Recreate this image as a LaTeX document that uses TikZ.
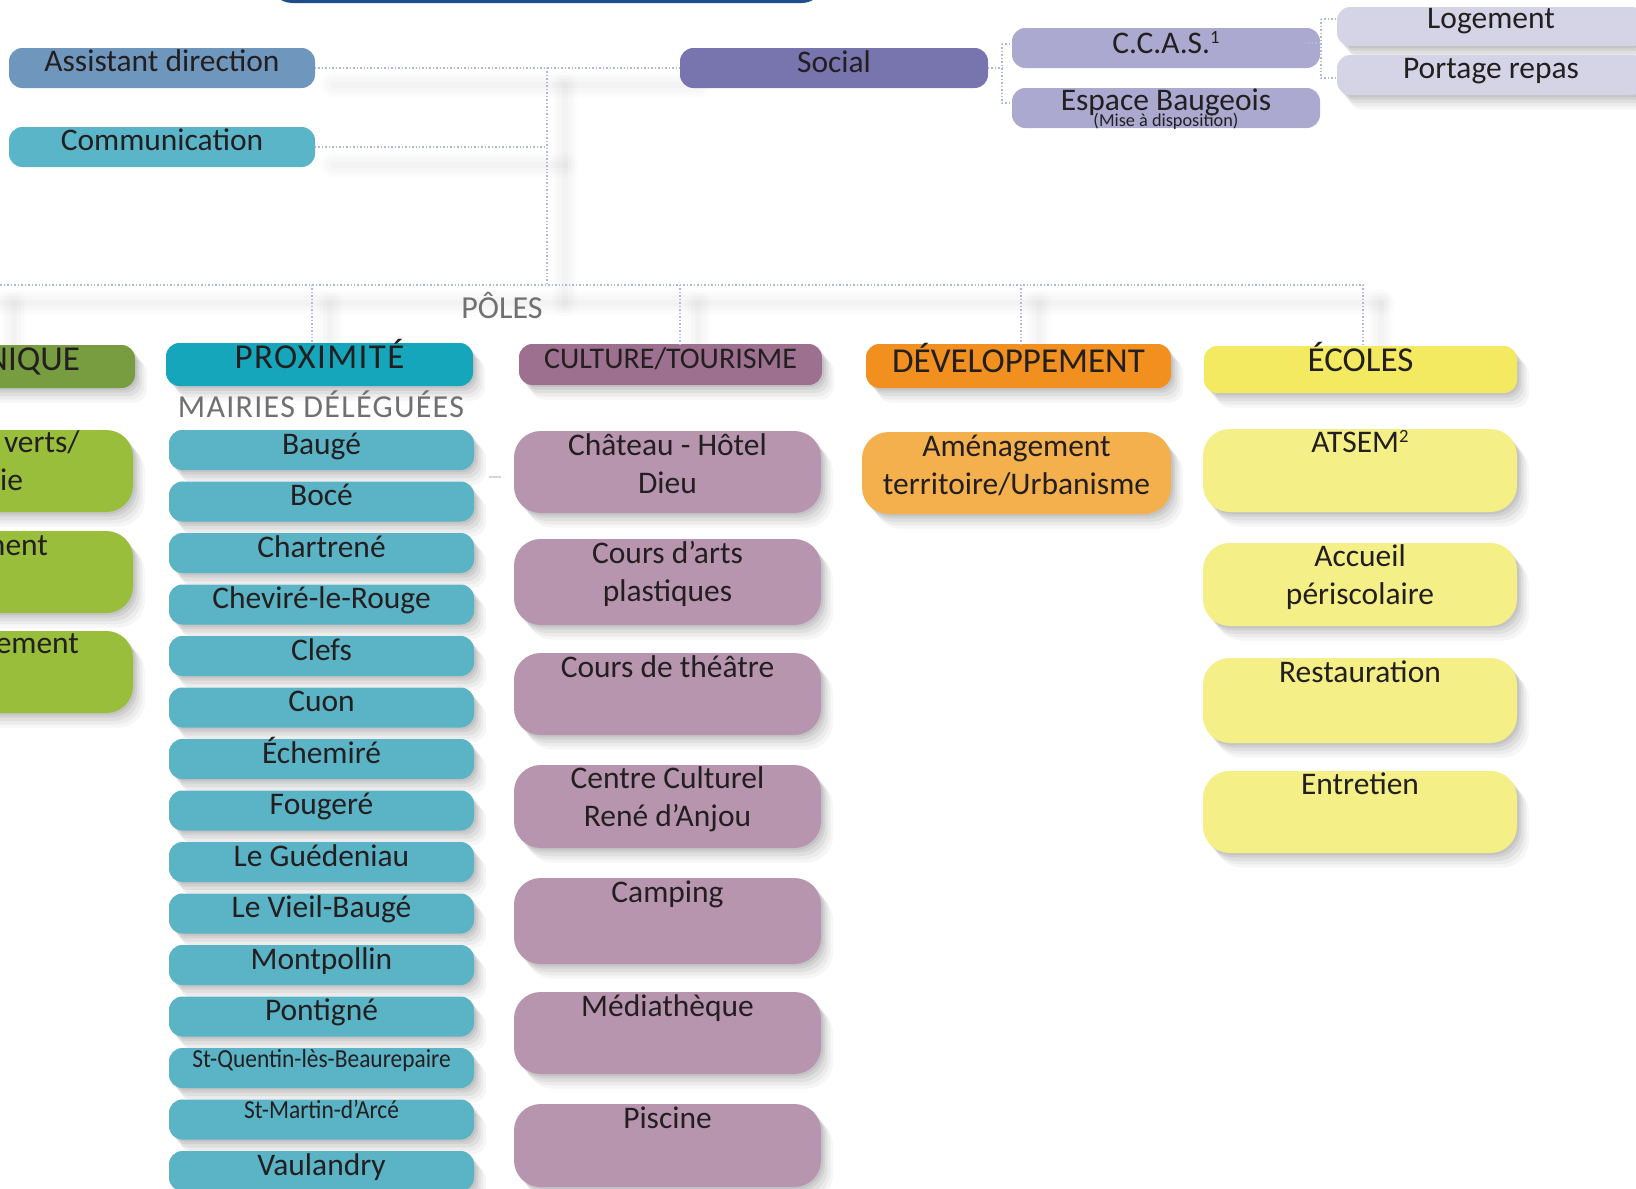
\documentclass[tikz,border=0pt]{standalone}
\usepackage{fontspec}
\setmainfont{Carlito}
\usepackage{graphicx}
\usetikzlibrary{fit,calc}
\definecolor{ink}{HTML}{231F20}
\definecolor{lav}{HTML}{B3B6DB}
\definecolor{navy}{HTML}{1F4D8B}
\definecolor{cassist}{HTML}{6F97BE}
\definecolor{ccomm}{HTML}{5BB5C8}
\definecolor{csocial}{HTML}{7774AE}
\definecolor{cccas}{HTML}{ABA9CF}
\definecolor{cloge}{HTML}{D5D4E7}
\definecolor{ctech}{HTML}{779D40}
\definecolor{cgreen}{HTML}{98BE3B}
\definecolor{cprox}{HTML}{16A6BC}
\definecolor{cmair}{HTML}{5BB3C6}
\definecolor{ccult}{HTML}{9D7090}
\definecolor{ccsub}{HTML}{B795AE}
\definecolor{cdev}{HTML}{F18F1F}
\definecolor{cdsub}{HTML}{F5B04E}
\definecolor{ceco}{HTML}{F3EA61}
\definecolor{cesub}{HTML}{F4EF86}
\definecolor{cgray}{HTML}{707070}
\newcommand\fmain{\fontsize{23.6}{28.9}\selectfont}
\newcommand\fhead{\fontsize{26.25}{30}\selectfont}
\newcommand\fcult{\fontsize{22.5}{27}\selectfont}
\newcommand\fsub{\fontsize{24}{28}\selectfont}
\newcommand\fmise{\fontsize{13.7}{15}\selectfont}
\newcommand\sq[1]{\raisebox{3.75pt}{\scalebox{0.9}[1]{\fontsize{19.5}{22}\selectfont #1}}}
\newcommand\sups[1]{\raisebox{7.5pt}{\fontsize{14}{14}\selectfont #1}}
\newcommand\twol[2]{\begin{tabular}[t]{@{}c@{}}#1\\#2\end{tabular}}
\newcommand\bx[6]{\node[box,#6,fit={(#2,#3)(#4,#5)}] (#1) {};}
\newcommand\lb[3][18pt]{\node[txt,anchor=base] (#2-t) at ([yshift=-#1]#2.north) {#3};}
\begin{document}
\begin{tikzpicture}[x=0.75pt,y=-0.75pt,
  box/.style={inner sep=0pt,outer sep=0pt,draw=none,rounded corners=10pt},
  shd/.style={
    preaction={fill=black,opacity=0.035,transform canvas={shift={(9pt,-11pt)}}},
    preaction={fill=black,opacity=0.04,transform canvas={shift={(7pt,-8.5pt)}}},
    preaction={fill=black,opacity=0.05,transform canvas={shift={(5pt,-6pt)}}},
    preaction={fill=black,opacity=0.06,transform canvas={shift={(3pt,-3.5pt)}}},
    preaction={fill=black,opacity=0.06,transform canvas={shift={(1.5pt,-1.5pt)}}}},
  big/.style={rounded corners=20pt},
  txt/.style={inner sep=0pt,outer sep=0pt,text=ink,font=\fmain},
  conn/.style={draw=lav,line width=1.1pt,dash pattern=on 1.1pt off 1.5pt},
  cshadow/.style={draw=black,line cap=round}
]
\useasboundingbox (0,0) rectangle (1636,1189);
\fill[white] (0,0) rectangle (1636,1189);

% soft shadows of the connectors
\foreach \w/\o in {20pt/0.008,15pt/0.01,10pt/0.012,5pt/0.014}{
  \draw[cshadow,line width=\w,opacity=\o] (333,85) -- (698,85);
  \draw[cshadow,line width=\w,opacity=\o] (333,165) -- (565,165);
  \draw[cshadow,line width=\w,opacity=\o] (565,85) -- (565,303);
  \draw[cshadow,line width=\w,opacity=\o] (-10,303) -- (1381,303);
  \foreach \xx in {14,330,698,1039,1381}{
    \draw[cshadow,line width=\w,opacity=\o] (\xx,303) -- (\xx,362);
  }
}

% junction coordinates
\coordinate (trunkTop) at (547,68);
\coordinate (trunkBot) at (547,285);
\coordinate (busL) at (-10,285);
\coordinate (busR) at (1363,285);
\coordinate (dT) at (-4,285);
\coordinate (dP) at (312,285);
\coordinate (dC) at (680,285);
\coordinate (dD) at (1021,285);
\coordinate (dE) at (1363,285);
\coordinate (sj) at (1002,68);
\coordinate (sT) at (1002,44);
\coordinate (sB) at (1002,103);
\coordinate (c0) at (1305,43);
\coordinate (cj) at (1321,43);
\coordinate (cT) at (1321,19);
\coordinate (cB) at (1321,78);

% top box (cut off)
\node[draw=navy,line width=2.25pt,rounded corners=16pt,inner sep=0pt,fit={(271,-60)(823,1.5)}] (topbox) {};

% first level
\bx{assist}{9}{48}{315}{88}{fill=cassist}
\bx{comm}{9}{127}{315}{167}{fill=ccomm}
\bx{social}{680}{48}{988}{88}{fill=csocial}
\bx{ccas}{1012}{28}{1320}{68}{fill=cccas}
\bx{esp}{1012}{88}{1320}{128}{fill=cccas}
\bx{loge}{1337}{7}{1645}{46}{fill=cloge,shd}
\bx{port}{1337}{55}{1645}{95}{fill=cloge,shd}

% connectors
\draw[conn] (assist.east) -- (social.west);
\draw[conn] (comm.east) -- (comm.east -| trunkTop);
\draw[conn] (trunkTop) -- (trunkBot);
\draw[conn] (busL) -- (busR);
\draw[conn] (social.east) -- (sj);
\draw[conn] (sT) -- (sB);
\draw[conn] (sT) -- (sT -| ccas.west);
\draw[conn] (sB) -- (sB -| esp.west);
\draw[conn] (c0) -- (cj);
\draw[conn] (cT) -- (cB);
\draw[conn] (cT) -- (cT -| loge.west);
\draw[conn] (cB) -- (cB -| port.west);

\lb[17.25pt]{assist}{Assistant direction}
\lb[17.25pt]{comm}{Communication}
\lb{social}{Social}
\lb[18.75pt]{ccas}{C.C.A.S.\sups{1}}
\lb[16.5pt]{esp}{Espace Baugeois}
\node[txt,font=\fmise,anchor=base] (mise) at ([yshift=-28.5pt]esp.north) {(Mise à disposition)};
\lb[15.75pt]{loge}{Logement}
\lb[17.25pt]{port}{Portage repas}

% poles
\node[txt,font=\fsub,text=cgray,anchor=base] (poles) at (502,318) {PÔLES};
\bx{tech}{-130}{345}{135}{388}{fill=ctech,shd}
\bx{prox}{166}{343}{473}{386}{fill=cprox,shd}
\bx{cult}{519}{344}{822}{385}{fill=ccult,shd}
\bx{dev}{866}{344}{1171}{388}{fill=cdev,shd}
\bx{eco}{1204}{346}{1517}{393}{fill=ceco,shd}
\draw[conn] (dT) -- (dT |- tech.north);
\draw[conn] (dP) -- (dP |- prox.north);
\draw[conn] (dC) -- (dC |- cult.north);
\draw[conn] (dD) -- (dD |- dev.north);
\draw[conn] (dE) -- (dE |- eco.north);
\node[txt,font=\fhead,anchor=base east] (tech-t) at (80,370) {NIQUE};
\lb[18.75pt]{prox}{\fhead\addfontfeature{LetterSpace=4}PROXIMITÉ}
\lb{cult}{\fcult CULTURE/TOURISME}
\lb[21pt]{dev}{\fhead DÉVELOPPEMENT}
\lb[18.75pt]{eco}{\fhead ÉCOLES}

% technique column (cut off)
\bx{g1}{-150}{430}{133}{512}{fill=cgreen,shd,big}
\bx{g2}{-150}{531}{133}{613}{fill=cgreen,shd,big}
\bx{g3}{-150}{631}{133}{713}{fill=cgreen,shd,big}
\node[txt,anchor=base west] (g1a) at (4,452) {verts/};
\node[txt,anchor=base east] (g1b) at (23,490) {rie};
\node[txt,anchor=base east] (g2a) at (48,555) {ment};
\node[txt,anchor=base east] (g3a) at (79,653) {nement};

% proximite column
\node[txt,font=\fsub\addfontfeature{LetterSpace=4},text=cgray,anchor=base] (mairies) at (321,417) {MAIRIES DÉLÉGUÉES};
\foreach \t [count=\i from 0] in {Baugé,Bocé,Chartrené,Cheviré-le-Rouge,Clefs,Cuon,Échemiré,Fougeré,Le Guédeniau,Le Vieil-Baugé,Montpollin,Pontigné,{\sq{St-Quentin-lès-Beaurepaire}},{\sq{St-Martin-d’Arcé}},Vaulandry}{
  \pgfmathsetmacro\yt{430+51.5*\i}
  \pgfmathsetmacro\yb{\yt+40}
  \node[box,fill=cmair,shd,fit={(169,\yt)(474,\yb)}] (m\i) {};
  \node[txt,anchor=base] (m\i-t) at ([yshift=-18pt]m\i.north) {\t};
}

% culture column
\bx{ch}{514}{431}{821}{513}{fill=ccsub,shd,big}
\bx{ca}{514}{539}{821}{625}{fill=ccsub,shd,big}
\bx{th}{514}{653}{821}{735}{fill=ccsub,shd,big}
\bx{cc}{514}{765}{821}{848}{fill=ccsub,shd,big}
\bx{cp}{514}{878}{821}{964}{fill=ccsub,shd,big}
\bx{me}{514}{992}{821}{1074}{fill=ccsub,shd,big}
\bx{pi}{514}{1104}{821}{1187}{fill=ccsub,shd,big}
\lb{ch}{\twol{Château - Hôtel}{Dieu}}
\lb{ca}{\twol{Cours d’arts}{plastiques}}
\lb{th}{Cours de théâtre}
\lb[17.25pt]{cc}{\twol{Centre Culturel}{René d’Anjou}}
\lb{cp}{Camping}
\lb{me}{Médiathèque}
\lb{pi}{Piscine}
\draw[line width=1.5pt,color=lav!60] (489,477) -- (501,477);

% developpement column
\bx{am}{862}{432}{1171}{514}{fill=cdsub,shd,big}
\lb{am}{\twol{Aménagement}{territoire/Urbanisme}}

% ecoles column
\bx{at}{1203}{429}{1517}{512}{fill=cesub,shd,big}
\bx{ac}{1203}{543}{1517}{626}{fill=cesub,shd,big}
\bx{re}{1203}{658}{1517}{743}{fill=cesub,shd,big}
\bx{en}{1203}{771}{1517}{853}{fill=cesub,shd,big}
\lb[17.25pt]{at}{ATSEM\sups{2}}
\lb[17.25pt]{ac}{\twol{Accueil}{périscolaire}}
\lb{re}{Restauration}
\lb[17.25pt]{en}{Entretien}
\end{tikzpicture}
\end{document}
